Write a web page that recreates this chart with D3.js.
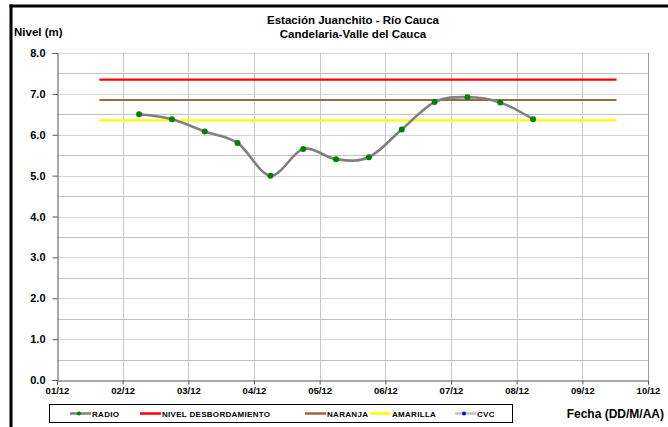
<!DOCTYPE html>
<html>
<head>
<meta charset="utf-8">
<script src="https://cdn.jsdelivr.net/npm/d3@7"></script>
<style>
  body { margin: 0; background: #fff; }
  text { font-family: "Liberation Sans", Arial, sans-serif; font-weight: bold; fill: #000; }
</style>
</head>
<body>
<script>
// lecturas RADIO (cada 12 h)
var fechas = ["2012-12-02T06:00", "2012-12-02T18:00", "2012-12-03T06:00", "2012-12-03T18:00",
              "2012-12-04T06:00", "2012-12-04T18:00", "2012-12-05T06:00", "2012-12-05T18:00",
              "2012-12-06T06:00", "2012-12-06T18:00", "2012-12-07T06:00", "2012-12-07T18:00",
              "2012-12-08T06:00"];
var niveles = [6.5, 6.38, 6.08, 5.8, 5.0, 5.65, 5.4, 5.45, 6.13, 6.8, 6.92, 6.79, 6.38];

// umbrales
var umbralNombres = ["NIVEL DESBORDAMIENTO", "NARANJA", "AMARILLA"];
var umbralValores = [7.35, 6.85, 6.35];
var umbralColores = ["#ff0000", "#9c6a3a", "#ffff00"];
var umbralDesde = "2012-12-01T15:30";
var umbralHasta = "2012-12-09T12:30";

var xTicks = ["01/12", "02/12", "03/12", "04/12", "05/12", "06/12", "07/12", "08/12", "09/12", "10/12"];
var yTicks = [0, 1, 2, 3, 4, 5, 6, 7, 8];

var w = 668, h = 427;
var margin = {top: 53, right: 20, bottom: 47, left: 57};
var width = w - margin.left - margin.right;   // 591
var height = h - margin.top - margin.bottom;  // 327

var parse = d3.timeParse("%Y-%m-%dT%H:%M");
var tickDates = xTicks.map(function(t) { return parse("2012-" + t.slice(3) + "-" + t.slice(0, 2) + "T00:00"); });

var x = d3.scaleTime()
    .domain([tickDates[0], tickDates[tickDates.length - 1]])
    .range([margin.left, margin.left + width]);
var y = d3.scaleLinear().domain([0, 8]).range([margin.top + height, margin.top]);

var svg = d3.select("body").append("svg").attr("width", w).attr("height", h);

// marco
svg.append("line").attr("x1", 11).attr("x2", 11).attr("y1", 4.5).attr("y2", h)
   .attr("stroke", "#000").attr("stroke-width", 3);
svg.append("line").attr("x1", 9.5).attr("x2", w).attr("y1", 6).attr("y2", 6)
   .attr("stroke", "#000").attr("stroke-width", 3);

// rejilla
var grid = svg.append("g");
d3.range(0.5, 8.01, 0.5).forEach(function(v) {
  grid.append("line").attr("x1", margin.left).attr("x2", margin.left + width)
      .attr("y1", Math.round(y(v)) + 0.5).attr("y2", Math.round(y(v)) + 0.5)
      .attr("stroke", v % 1 === 0 ? "#d4d4d4" : "#c0c0c0");
});
tickDates.slice(1).forEach(function(d) {
  grid.append("line").attr("x1", Math.round(x(d)) + 0.5).attr("x2", Math.round(x(d)) + 0.5)
      .attr("y1", margin.top).attr("y2", margin.top + height)
      .attr("stroke", "#c8c8c8");
});
svg.append("line").attr("x1", margin.left + width + 0.5).attr("x2", margin.left + width + 0.5)
   .attr("y1", margin.top).attr("y2", margin.top + height).attr("stroke", "#9a9a9a");

// ejes
var yAxis = d3.axisLeft(y).tickValues(yTicks).tickFormat(d3.format(".1f")).tickSize(5).tickPadding(7);
var gy = svg.append("g").attr("transform", "translate(" + (margin.left + 0.5) + ",0)").call(yAxis);
gy.selectAll("text").style("font-size", "11px");

var xAxis = d3.axisBottom(x).tickValues(tickDates)
    .tickFormat(function(d, i) { return xTicks[i]; }).tickSize(4).tickPadding(3);
var gx = svg.append("g").attr("transform", "translate(0," + (margin.top + height + 0.5) + ")").call(xAxis);
gx.selectAll("text").style("font-size", "9.5px");
[gx, gy].forEach(function(g) {
  g.select(".domain").attr("stroke", "#555");
  g.selectAll(".tick line").attr("stroke", "#555");
});

// umbrales
umbralValores.forEach(function(v, i) {
  svg.append("line")
     .attr("x1", x(parse(umbralDesde))).attr("x2", x(parse(umbralHasta)))
     .attr("y1", y(v)).attr("y2", y(v))
     .attr("stroke", umbralColores[i]).attr("stroke-width", 2.2);
});

// serie RADIO
var pts = fechas.map(function(f, i) { return {d: parse(f), v: niveles[i]}; });
var line = d3.line().x(function(p) { return x(p.d); }).y(function(p) { return y(p.v); })
    .curve(d3.curveCardinal.tension(0));
svg.append("path").datum(pts).attr("d", line)
   .attr("fill", "none").attr("stroke", "#808080").attr("stroke-width", 2.6);
svg.selectAll(".pt").data(pts).enter().append("circle")
   .attr("cx", function(p) { return x(p.d); }).attr("cy", function(p) { return y(p.v); })
   .attr("r", 3).attr("fill", "#008000");

// titulos
svg.append("text").attr("x", 353).attr("y", 24).attr("text-anchor", "middle")
   .style("font-size", "11.5px").text("Estación Juanchito - Río Cauca");
svg.append("text").attr("x", 353).attr("y", 38).attr("text-anchor", "middle")
   .style("font-size", "11.5px").text("Candelaria-Valle del Cauca");
svg.append("text").attr("x", 14).attr("y", 36).style("font-size", "11.5px").text("Nivel (m)");
svg.append("text").attr("x", 664).attr("y", 418).attr("text-anchor", "end")
   .style("font-size", "12px").text("Fecha (DD/M/AA)");

// leyenda
var legNames = ["RADIO"].concat(umbralNombres).concat(["CVC"]);
var legColors = ["#808080"].concat(umbralColores).concat(["#c0c0c0"]);
var legDots = ["#008000", null, null, null, "#0000ff"];
var legX = [70, 140, 305, 370, 455];
svg.append("rect").attr("x", 49.5).attr("y", 404.5).attr("width", 463).attr("height", 18)
   .attr("fill", "#fff").attr("stroke", "#000");
legNames.forEach(function(n, i) {
  var g = svg.append("g").attr("transform", "translate(" + legX[i] + ",413.5)");
  g.append("line").attr("x1", 0).attr("x2", 21).attr("stroke", legColors[i]).attr("stroke-width", 2.5);
  if (legDots[i]) g.append("circle").attr("cx", 9).attr("r", 2).attr("fill", legDots[i]);
  g.append("text").attr("x", 22).attr("y", 3).style("font-size", "8px")
   .style("letter-spacing", "0.3px").text(n);
});
</script>
</body>
</html>
